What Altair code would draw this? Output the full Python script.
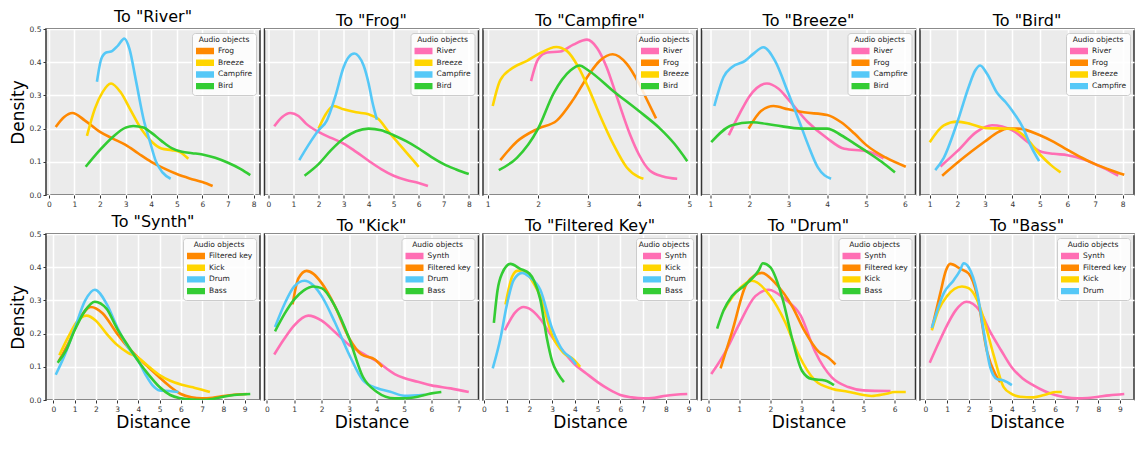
import altair as alt
import pandas as pd
import numpy as np

FONT = "DejaVu Sans"

PINK = "#ff6eb4"
ORANGE = "#ff8800"
GOLD = "#ffd500"
BLUE = "#55c8f7"
GREEN = "#33cc33"

COLORS = {
    "River": PINK, "Frog": ORANGE, "Breeze": GOLD, "Campfire": BLUE, "Bird": GREEN,
    "Synth": PINK, "Filtered key": ORANGE, "Kick": GOLD, "Drum": BLUE, "Bass": GREEN,
}

# ---- top row: nature sounds ----
TO_RIVER = {
    "Frog": ([0.27, 0.6, 0.92, 1.4, 2.0, 2.5, 3.0, 3.5, 4.0, 4.5, 5.0, 5.5, 6.0, 6.4],
             [0.205, 0.235, 0.247, 0.225, 0.19, 0.17, 0.151, 0.125, 0.10, 0.08, 0.063, 0.05, 0.039, 0.027]),
    "Breeze": ([1.49, 1.8, 2.1, 2.43, 2.8, 3.2, 3.6, 4.0, 4.4, 4.8, 5.1, 5.45],
               [0.178, 0.26, 0.31, 0.336, 0.31, 0.255, 0.2, 0.162, 0.14, 0.135, 0.13, 0.109]),
    "Campfire": ([1.88, 2.05, 2.24, 2.43, 2.7, 2.95, 3.15, 3.4, 3.73, 3.95, 4.18, 4.44, 4.76],
                 [0.341, 0.41, 0.429, 0.432, 0.45, 0.471, 0.44, 0.346, 0.219, 0.161, 0.102, 0.068, 0.049]),
    "Bird": ([1.44, 2.0, 2.5, 3.0, 3.3, 3.7, 4.0, 4.4, 4.8, 5.2, 5.6, 6.0, 6.5, 7.0, 7.5, 7.87],
             [0.085, 0.136, 0.175, 0.203, 0.208, 0.203, 0.188, 0.163, 0.141, 0.130, 0.126, 0.122, 0.112, 0.097, 0.078, 0.060]),
}

TO_FROG = {
    "River": ([0.23, 0.55, 0.87, 1.2, 1.5, 2.0, 2.5, 3.0, 3.5, 4.0, 4.5, 5.0, 5.5, 6.0, 6.37],
              [0.207, 0.235, 0.247, 0.238, 0.215, 0.19, 0.172, 0.155, 0.13, 0.103, 0.078, 0.058, 0.045, 0.036, 0.027]),
    "Breeze": ([2.0, 2.3, 2.6, 3.0, 3.5, 4.0, 4.4, 4.8, 5.2, 5.6, 6.0],
               [0.2, 0.245, 0.268, 0.258, 0.249, 0.243, 0.228, 0.19, 0.155, 0.12, 0.085]),
    "Campfire": ([1.23, 1.6, 2.0, 2.33, 2.67, 3.0, 3.2, 3.43, 3.6, 3.8, 4.0, 4.15, 4.33],
                 [0.105, 0.151, 0.195, 0.224, 0.297, 0.385, 0.415, 0.426, 0.418, 0.39, 0.336, 0.28, 0.227]),
    "Bird": ([1.44, 2.0, 2.5, 3.0, 3.5, 4.0, 4.5, 5.0, 5.5, 6.0, 6.5, 7.0, 7.5, 8.0],
             [0.058, 0.093, 0.135, 0.17, 0.192, 0.2, 0.195, 0.18, 0.162, 0.14, 0.115, 0.093, 0.077, 0.063]),
}

TO_CAMPFIRE = {
    "River": ([1.86, 2.0, 2.18, 2.44, 2.7, 2.97, 3.17, 3.36, 3.56, 3.83, 4.0, 4.22, 4.48, 4.76],
              [0.343, 0.409, 0.429, 0.432, 0.453, 0.468, 0.443, 0.385, 0.297, 0.18, 0.122, 0.073, 0.056, 0.049]),
    "Frog": ([1.25, 1.58, 2.0, 2.37, 2.7, 3.0, 3.23, 3.48, 3.76, 4.0, 4.15, 4.34],
             [0.105, 0.161, 0.2, 0.224, 0.288, 0.361, 0.405, 0.424, 0.395, 0.336, 0.29, 0.231]),
    "Breeze": ([1.1, 1.25, 1.52, 1.78, 2.0, 2.36, 2.57, 2.8, 3.0, 3.23, 3.5, 3.76, 4.0, 4.09],
               [0.268, 0.346, 0.385, 0.404, 0.424, 0.446, 0.434, 0.385, 0.322, 0.239, 0.151, 0.083, 0.054, 0.049]),
    "Bird": ([1.22, 1.58, 2.0, 2.31, 2.64, 2.82, 3.0, 3.5, 4.0, 4.42, 4.7, 4.96],
             [0.075, 0.112, 0.2, 0.307, 0.375, 0.39, 0.375, 0.312, 0.253, 0.2, 0.155, 0.102]),
}

TO_BREEZE = {
    "River": ([1.47, 1.75, 2.0, 2.45, 2.75, 3.0, 3.5, 4.0, 4.44, 5.0, 5.2, 5.45],
              [0.18, 0.245, 0.297, 0.336, 0.32, 0.288, 0.22, 0.171, 0.139, 0.132, 0.125, 0.11]),
    "Frog": ([1.98, 2.3, 2.62, 3.0, 3.4, 4.0, 4.36, 4.7, 5.0, 5.5, 6.02],
             [0.2, 0.253, 0.268, 0.258, 0.249, 0.241, 0.219, 0.185, 0.151, 0.113, 0.085]),
    "Campfire": ([1.1, 1.34, 1.55, 1.89, 2.1, 2.36, 2.66, 3.0, 3.26, 3.51, 3.76, 4.1],
                 [0.268, 0.356, 0.385, 0.404, 0.425, 0.445, 0.404, 0.307, 0.229, 0.151, 0.083, 0.049]),
    "Bird": ([1.02, 1.55, 2.06, 2.66, 3.34, 4.0, 4.36, 4.7, 5.0, 5.4, 5.74],
             [0.159, 0.21, 0.219, 0.21, 0.2, 0.2, 0.18, 0.155, 0.132, 0.1, 0.068]),
}

TO_BIRD = {
    "River": ([1.39, 2.0, 2.7, 3.26, 4.0, 4.53, 5.0, 5.5, 6.0, 6.6, 7.0, 7.4, 7.84],
              [0.086, 0.132, 0.19, 0.21, 0.195, 0.161, 0.132, 0.124, 0.12, 0.107, 0.093, 0.078, 0.058]),
    "Frog": ([1.45, 2.0, 2.5, 3.0, 3.5, 3.8, 4.2, 5.0, 5.5, 6.0, 6.5, 7.0, 7.5, 8.06],
             [0.058, 0.097, 0.13, 0.161, 0.19, 0.2, 0.2, 0.18, 0.16, 0.136, 0.113, 0.093, 0.077, 0.061]),
    "Breeze": ([1.0, 1.51, 2.0, 2.48, 3.0, 3.69, 4.0, 4.4, 5.0, 5.4, 5.75],
               [0.159, 0.21, 0.221, 0.214, 0.202, 0.2, 0.199, 0.18, 0.122, 0.09, 0.068]),
    "Campfire": ([1.2, 1.51, 2.0, 2.42, 2.65, 2.83, 3.08, 3.45, 3.75, 4.0, 4.4, 4.65, 4.97],
                 [0.075, 0.112, 0.219, 0.327, 0.375, 0.39, 0.365, 0.307, 0.28, 0.253, 0.2, 0.151, 0.102]),
}

# ---- bottom row: music sounds ----
TO_SYNTH = {
    "Filtered key": ([0.25, 0.7, 1.2, 1.76, 2.3, 3.0, 3.5, 4.0, 4.5, 5.0, 5.5, 6.0, 6.5, 7.0, 7.5, 8.0, 8.5, 9.1],
                     [0.117, 0.17, 0.24, 0.28, 0.262, 0.2, 0.16, 0.127, 0.097, 0.068, 0.04, 0.018, 0.008, 0.005, 0.007, 0.012, 0.016, 0.018]),
    "Kick": ([0.28, 0.7, 1.1, 1.56, 2.0, 2.5, 3.0, 3.5, 4.0, 4.5, 5.0, 5.5, 6.0, 6.5, 7.0, 7.37],
             [0.135, 0.19, 0.235, 0.254, 0.239, 0.2, 0.166, 0.143, 0.127, 0.1, 0.075, 0.058, 0.047, 0.039, 0.031, 0.024]),
    "Drum": ([0.11, 0.5, 1.0, 1.5, 1.95, 2.5, 3.0, 3.5, 4.0, 4.35, 4.67, 5.0, 5.45, 5.89],
             [0.076, 0.13, 0.215, 0.3, 0.332, 0.29, 0.22, 0.16, 0.117, 0.075, 0.044, 0.029, 0.027, 0.024]),
    "Bass": ([0.2, 0.6, 1.0, 1.5, 1.95, 2.5, 3.0, 3.5, 4.0, 4.5, 5.0, 5.5, 6.0, 6.5, 7.0, 7.5, 8.0, 8.5, 9.27],
             [0.112, 0.15, 0.21, 0.27, 0.296, 0.275, 0.215, 0.165, 0.117, 0.075, 0.039, 0.015, 0.005, 0.001, 0.0, 0.003, 0.01, 0.015, 0.018]),
}

TO_KICK = {
    "Synth": ([0.27, 0.6, 1.0, 1.51, 2.0, 2.48, 3.0, 3.57, 4.0, 4.66, 5.0, 5.5, 6.0, 6.7, 7.36],
              [0.137, 0.18, 0.225, 0.254, 0.239, 0.205, 0.166, 0.137, 0.117, 0.078, 0.066, 0.055, 0.044, 0.035, 0.024]),
    "Filtered key": ([0.94, 1.15, 1.45, 1.7, 2.0, 2.48, 3.0, 3.45, 3.94, 4.21],
                     [0.288, 0.366, 0.389, 0.38, 0.352, 0.283, 0.186, 0.137, 0.122, 0.1]),
    "Drum": ([0.3, 0.65, 1.0, 1.37, 1.7, 2.0, 2.48, 3.0, 3.5, 4.0, 4.5, 5.0, 5.75],
             [0.22, 0.29, 0.342, 0.359, 0.345, 0.313, 0.234, 0.137, 0.06, 0.036, 0.025, 0.013, 0.016]),
    "Bass": ([0.3, 0.65, 1.0, 1.35, 1.69, 2.0, 2.48, 3.0, 3.5, 4.0, 4.66, 5.0, 5.5, 6.0, 6.36],
             [0.207, 0.26, 0.303, 0.33, 0.342, 0.337, 0.283, 0.186, 0.07, 0.025, 0.005, 0.005, 0.01, 0.02, 0.024]),
}

TO_FILTERED_KEY = {
    "Synth": ([0.92, 1.38, 1.75, 2.0, 2.48, 3.0, 3.5, 4.0, 4.5, 5.0, 5.5, 6.0, 6.5, 7.0, 7.5, 8.0, 8.94],
              [0.21, 0.264, 0.28, 0.275, 0.244, 0.19, 0.146, 0.107, 0.08, 0.054, 0.032, 0.015, 0.008, 0.005, 0.007, 0.013, 0.018]),
    "Kick": ([0.95, 1.24, 1.46, 1.7, 1.9, 2.2, 2.48, 3.0, 3.5, 3.94, 4.23],
             [0.288, 0.371, 0.389, 0.39, 0.381, 0.35, 0.313, 0.195, 0.142, 0.122, 0.1]),
    "Drum": ([0.39, 0.73, 1.0, 1.31, 1.68, 2.0, 2.48, 3.0, 3.5, 3.85, 4.05],
             [0.095, 0.186, 0.283, 0.361, 0.383, 0.371, 0.332, 0.215, 0.146, 0.125, 0.107]),
    "Bass": ([0.44, 0.6, 0.8, 1.17, 1.6, 2.0, 2.2, 2.48, 2.77, 3.0, 3.25, 3.52],
             [0.232, 0.33, 0.381, 0.41, 0.395, 0.381, 0.36, 0.303, 0.186, 0.117, 0.08, 0.054]),
}

TO_DRUM = {
    "Synth": ([0.1, 0.56, 0.98, 1.52, 1.95, 2.48, 2.98, 3.44, 3.98, 4.51, 5.0, 5.87],
              [0.078, 0.146, 0.225, 0.313, 0.332, 0.303, 0.254, 0.146, 0.068, 0.039, 0.029, 0.027]),
    "Filtered key": ([0.4, 0.77, 1.25, 1.73, 2.16, 2.7, 3.12, 3.55, 3.87, 4.1],
                     [0.095, 0.205, 0.352, 0.383, 0.352, 0.283, 0.205, 0.146, 0.127, 0.107]),
    "Kick": ([0.5, 0.9, 1.41, 2.0, 2.48, 2.91, 3.44, 3.98, 4.5, 5.0, 5.26, 5.7, 6.0, 6.36],
             [0.27, 0.325, 0.359, 0.313, 0.234, 0.137, 0.059, 0.034, 0.025, 0.015, 0.012, 0.018, 0.024, 0.024]),
    "Bass": ([0.29, 0.5, 0.77, 1.2, 1.63, 1.76, 2.0, 2.4, 2.7, 3.02, 3.34, 3.76, 4.05],
             [0.215, 0.27, 0.313, 0.347, 0.391, 0.412, 0.4, 0.303, 0.186, 0.088, 0.063, 0.059, 0.045]),
}

TO_BASS = {
    "Synth": ([0.2, 0.6, 1.0, 1.4, 1.9, 2.5, 3.0, 3.5, 4.0, 4.5, 5.0, 5.5, 6.0, 6.5, 7.0, 7.5, 8.0, 8.5, 9.2],
              [0.112, 0.17, 0.225, 0.27, 0.296, 0.27, 0.205, 0.15, 0.098, 0.065, 0.044, 0.027, 0.015, 0.008, 0.005, 0.006, 0.01, 0.014, 0.018]),
    "Filtered key": ([0.3, 0.69, 0.95, 1.15, 1.62, 2.0, 2.4, 2.85, 3.23, 3.46],
                     [0.215, 0.322, 0.39, 0.41, 0.395, 0.381, 0.313, 0.146, 0.078, 0.054]),
    "Kick": ([0.3, 0.6, 1.0, 1.69, 2.0, 2.4, 2.7, 3.15, 3.62, 4.0, 4.38, 5.0, 5.5, 6.0, 6.31],
             [0.21, 0.27, 0.313, 0.342, 0.337, 0.3, 0.244, 0.137, 0.039, 0.018, 0.01, 0.008, 0.015, 0.024, 0.024]),
    "Drum": ([0.3, 0.85, 1.31, 1.6, 1.77, 2.0, 2.4, 2.7, 3.0, 3.31, 3.62, 4.0],
             [0.217, 0.322, 0.361, 0.39, 0.412, 0.4, 0.322, 0.205, 0.098, 0.063, 0.059, 0.045]),
}

TOP_ROW = [('To "River"', TO_RIVER), ('To "Frog"', TO_FROG), ('To "Campfire"', TO_CAMPFIRE),
           ('To "Breeze"', TO_BREEZE), ('To "Bird"', TO_BIRD)]
BOTTOM_ROW = [('To "Synth"', TO_SYNTH), ('To "Kick"', TO_KICK), ('To "Filtered Key"', TO_FILTERED_KEY),
              ('To "Drum"', TO_DRUM), ('To "Bass"', TO_BASS)]

Y_TICKS = [0.0, 0.1, 0.2, 0.3, 0.4, 0.5]

PW, PH = 214, 166

# legend swatch: a filled-looking bar built from thin parallel strokes
SWATCH = "M-1,-0.55H3M-1,-0.275H3M-1,0H3M-1,0.275H3M-1,0.55H3"


def panel(title, curves, row, col):
    recs = []
    for name, (xs, ys) in curves.items():
        for i, (x, y) in enumerate(zip(xs, ys)):
            recs.append({"obj": name, "x": x, "y": y, "i": i})
    df = pd.DataFrame(recs)
    allx = [v for xs, _ in curves.values() for v in xs]
    lo, hi = min(allx), max(allx)
    m = 0.05 * (hi - lo)
    d0, d1 = lo - m, hi + m
    xticks = list(range(int(np.ceil(d0)), int(np.floor(d1)) + 1))
    names = list(curves.keys())

    xaxis_kw = dict(values=xticks, format="d", labelFlush=False, labelOverlap=False, grid=True)
    if row == 1:
        xaxis_kw.update(title="Distance", titleFontSize=17, titlePadding=2)
    else:
        xaxis_kw.update(title=None)

    if col == 0:
        yaxis = alt.Axis(values=Y_TICKS, format=".1f", title="Density", titleFontSize=17,
                         titlePadding=2, labelFlush=False, labelOverlap=False)
    else:
        yaxis = alt.Axis(values=Y_TICKS, labels=False, ticks=False, title=None)

    legend = alt.Legend(
        title="Audio objects", orient="top-right", offset=4,
        fillColor="rgba(255,255,255,0.85)", strokeColor="#cccccc", padding=3,
        cornerRadius=3, titleFontSize=7.5, titleFontWeight="normal", titleFont=FONT,
        titleColor="#222222", titleAnchor="middle", titlePadding=2,
        labelFont=FONT, labelFontSize=7.5, labelColor="#222222", labelOffset=12,
        symbolType=SWATCH, symbolSize=81, symbolStrokeWidth=1.5, rowPadding=0.7,
        symbolOffset=0,
    )

    ch = alt.Chart(df).mark_line(interpolate="monotone", strokeWidth=2.6, clip=True).encode(
        x=alt.X("x:Q", scale=alt.Scale(domain=[d0, d1], nice=False, zero=False), axis=alt.Axis(**xaxis_kw)),
        y=alt.Y("y:Q", scale=alt.Scale(domain=[0, 0.5], nice=False, zero=False), axis=yaxis),
        color=alt.Color("obj:N", scale=alt.Scale(domain=names, range=[COLORS[n] for n in names]),
                        legend=legend),
        order=alt.Order("i:Q"),
    ).properties(
        width=PW, height=PH,
        title=alt.TitleParams(title, fontSize=16, fontWeight="normal", font=FONT, color="black",
                              anchor="middle", offset=0),
    )
    return ch


panels = []
for r, spec in enumerate([TOP_ROW, BOTTOM_ROW]):
    for ci, (t, c) in enumerate(spec):
        panels.append(panel(t, c, r, ci))

chart = alt.concat(*panels, columns=5, spacing={"row": 39, "column": 4.5}, bounds="flush").resolve_scale(
    color="independent"
).properties(
    padding={"left": 0, "top": 0, "right": 0, "bottom": 0},
    background="white",
).configure_view(
    fill="#ebebeb", stroke="#333333", strokeWidth=1.5,
).configure_axis(
    gridColor="white", gridWidth=1.5, gridOpacity=1, domain=False,
    tickColor="#333333", tickSize=3, tickWidth=1,
    labelFont=FONT, labelFontSize=7.5, labelColor="#333333", labelPadding=2,
    titleFont=FONT, titleFontWeight="normal", titleColor="black",
)

chart.save("out.html", embed_options={"renderer": "svg", "actions": False})
